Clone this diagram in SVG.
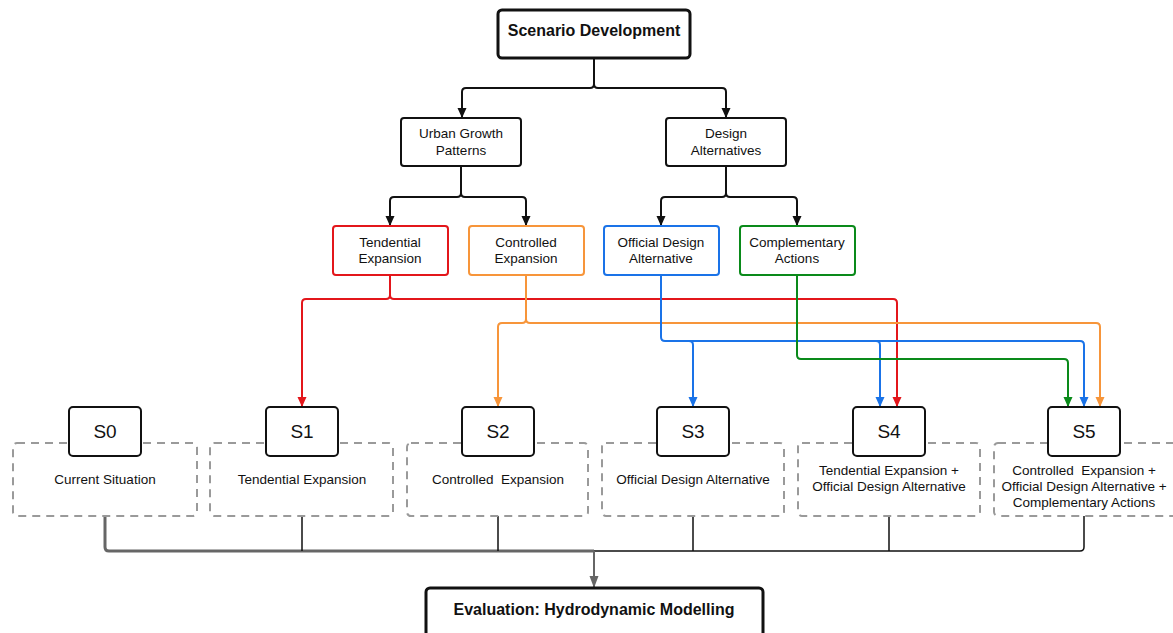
<svg xmlns="http://www.w3.org/2000/svg" width="1173" height="633" viewBox="0 0 1173 633">
<style>
text{font-family:"Liberation Sans",Arial,sans-serif;fill:#111;text-anchor:middle}
.box{fill:#fff;stroke:#111;stroke-width:2}
.thick{fill:#fff;stroke:#111;stroke-width:3}
.dash{fill:none;stroke:#9a9a9a;stroke-width:2;stroke-dasharray:8 6}
.t13{font-size:13.5px}
.s{font-size:19px}
.c{fill:none;stroke-width:2;stroke-linejoin:round}
</style>
<defs>
<marker id="ak" markerUnits="userSpaceOnUse" markerWidth="10" markerHeight="10" refX="10" refY="5" orient="auto"><path d="M0,0.5 L10,5 L0,9.5 z" fill="#111"/></marker>
<marker id="ar" markerUnits="userSpaceOnUse" markerWidth="10" markerHeight="10" refX="10" refY="5" orient="auto"><path d="M0,0.5 L10,5 L0,9.5 z" fill="#e3161b"/></marker>
<marker id="ao" markerUnits="userSpaceOnUse" markerWidth="10" markerHeight="10" refX="10" refY="5" orient="auto"><path d="M0,0.5 L10,5 L0,9.5 z" fill="#f7953a"/></marker>
<marker id="ab" markerUnits="userSpaceOnUse" markerWidth="10" markerHeight="10" refX="10" refY="5" orient="auto"><path d="M0,0.5 L10,5 L0,9.5 z" fill="#1a73e8"/></marker>
<marker id="ag" markerUnits="userSpaceOnUse" markerWidth="10" markerHeight="10" refX="10" refY="5" orient="auto"><path d="M0,0.5 L10,5 L0,9.5 z" fill="#0a8a1a"/></marker>
<marker id="ay" markerUnits="userSpaceOnUse" markerWidth="10" markerHeight="12" refX="12" refY="5" orient="auto"><path d="M0,0.5 L12,5 L0,9.5 z" fill="#666"/></marker>
</defs>

<g id="connectors">
<path class="c" stroke="#111" d="M594,58 V84 Q594,88 590,88 H466 Q462,88 462,92 V118" marker-end="url(#ak)"/>
<path class="c" stroke="#111" d="M594,84 Q594,88 598,88 H722 Q726,88 726,92 V118" marker-end="url(#ak)"/>
<path class="c" stroke="#111" d="M461,166 V193 Q461,197 457,197 H394 Q390,197 390,201 V226" marker-end="url(#ak)"/>
<path class="c" stroke="#111" d="M461,193 Q461,197 465,197 H522 Q526,197 526,201 V226" marker-end="url(#ak)"/>
<path class="c" stroke="#111" d="M726,166 V193 Q726,197 722,197 H665 Q661,197 661,201 V226" marker-end="url(#ak)"/>
<path class="c" stroke="#111" d="M726,193 Q726,197 730,197 H793 Q797,197 797,201 V226" marker-end="url(#ak)"/>

<path class="c" stroke="#e3161b" d="M390,275 V295 Q390,299 386,299 H306 Q302,299 302,303 V407" marker-end="url(#ar)"/>
<path class="c" stroke="#e3161b" d="M390,295 Q390,299 394,299 H893 Q897,299 897,303 V407" marker-end="url(#ar)"/>

<path class="c" stroke="#f7953a" d="M526,275 V319 Q526,323 522,323 H502 Q498,323 498,327 V407" marker-end="url(#ao)"/>
<path class="c" stroke="#f7953a" d="M526,319 Q526,323 530,323 H1096 Q1100,323 1100,327 V407" marker-end="url(#ao)"/>

<path class="c" stroke="#1a73e8" d="M661,275 V337 Q661,341 665,341 H1080 Q1084,341 1084,345 V407" marker-end="url(#ab)"/>
<path class="c" stroke="#1a73e8" d="M689,341 Q693,341 693,345 V407" marker-end="url(#ab)"/>
<path class="c" stroke="#1a73e8" d="M876,341 Q880,341 880,345 V407" marker-end="url(#ab)"/>

<path class="c" stroke="#0a8a1a" d="M797,275 V355 Q797,359 801,359 H1064 Q1068,359 1068,363 V407" marker-end="url(#ag)"/>

<path fill="none" stroke="#666" stroke-width="3" stroke-linejoin="round" d="M105,516 V547 Q105,551 109,551 H594"/>
<path fill="none" stroke="#111" stroke-width="1.5" stroke-linejoin="round" d="M594,551 H1080 Q1084,551 1084,547 V516"/>
<path fill="none" stroke="#111" stroke-width="1.5" d="M302,516 V551 M498,516 V551 M693,516 V551 M889,516 V551"/>
<path fill="none" stroke="#666" stroke-width="2" d="M594,551 V588" marker-end="url(#ay)"/>
</g>

<g id="n-scenario"><rect class="thick" x="498" y="10" width="192" height="48" rx="4"/><text x="594" y="36" font-size="16" font-weight="bold">Scenario Development</text></g>
<g id="n-ugp"><rect class="box" x="401" y="118" width="120" height="48" rx="3"/><text class="t13" x="461" y="138">Urban Growth</text><text class="t13" x="461" y="155">Patterns</text></g>
<g id="n-da"><rect class="box" x="666" y="118" width="120" height="48" rx="3"/><text class="t13" x="726" y="138">Design</text><text class="t13" x="726" y="155">Alternatives</text></g>

<g id="n-te"><rect class="box" style="stroke:#e3161b" x="333" y="226" width="115" height="49" rx="3"/><text class="t13" x="390" y="247">Tendential</text><text class="t13" x="390" y="263">Expansion</text></g>
<g id="n-ce"><rect class="box" style="stroke:#f7953a" x="469" y="226" width="115" height="49" rx="3"/><text class="t13" x="526" y="247">Controlled</text><text class="t13" x="526" y="263">Expansion</text></g>
<g id="n-oda"><rect class="box" style="stroke:#1a73e8" x="604" y="226" width="115" height="49" rx="3"/><text class="t13" x="661" y="247">Official Design</text><text class="t13" x="661" y="263">Alternative</text></g>
<g id="n-ca"><rect class="box" style="stroke:#0a8a1a" x="740" y="226" width="115" height="49" rx="3"/><text class="t13" x="797" y="247">Complementary</text><text class="t13" x="797" y="263">Actions</text></g>

<g id="n-s0"><rect class="dash" x="13" y="443" width="184" height="73" rx="4"/><rect class="box" x="69" y="407" width="72" height="49" rx="4"/><text class="s" x="105" y="438">S0</text><text class="t13" x="105" y="484">Current Situation</text></g>
<g id="n-s1"><rect class="dash" x="210" y="443" width="183" height="73" rx="4"/><rect class="box" x="266" y="407" width="72" height="49" rx="4"/><text class="s" x="302" y="438">S1</text><text class="t13" x="302" y="484">Tendential Expansion</text></g>
<g id="n-s2"><rect class="dash" x="407" y="443" width="181" height="73" rx="4"/><rect class="box" x="462" y="407" width="72" height="49" rx="4"/><text class="s" x="498" y="438">S2</text><text class="t13" x="498" y="484" xml:space="preserve">Controlled  Expansion</text></g>
<g id="n-s3"><rect class="dash" x="602" y="443" width="182" height="73" rx="4"/><rect class="box" x="657" y="407" width="72" height="49" rx="4"/><text class="s" x="693" y="438">S3</text><text class="t13" x="693" y="484">Official Design Alternative</text></g>
<g id="n-s4"><rect class="dash" x="798" y="443" width="182" height="73" rx="4"/><rect class="box" x="853" y="407" width="72" height="49" rx="4"/><text class="s" x="889" y="438">S4</text><text class="t13" x="889" y="475">Tendential Expansion +</text><text class="t13" x="889" y="491">Official Design Alternative</text></g>
<g id="n-s5"><rect class="dash" x="994" y="443" width="185" height="73" rx="4"/><rect class="box" x="1048" y="407" width="72" height="49" rx="4"/><text class="s" x="1084" y="438">S5</text><text class="t13" x="1084" y="475" xml:space="preserve">Controlled  Expansion +</text><text class="t13" x="1084" y="491">Official Design Alternative +</text><text class="t13" x="1084" y="507">Complementary Actions</text></g>

<g id="n-eval"><rect class="thick" x="426" y="588" width="337" height="60" rx="4"/><text x="594" y="615" font-size="16" font-weight="bold">Evaluation: Hydrodynamic Modelling</text></g>
</svg>
